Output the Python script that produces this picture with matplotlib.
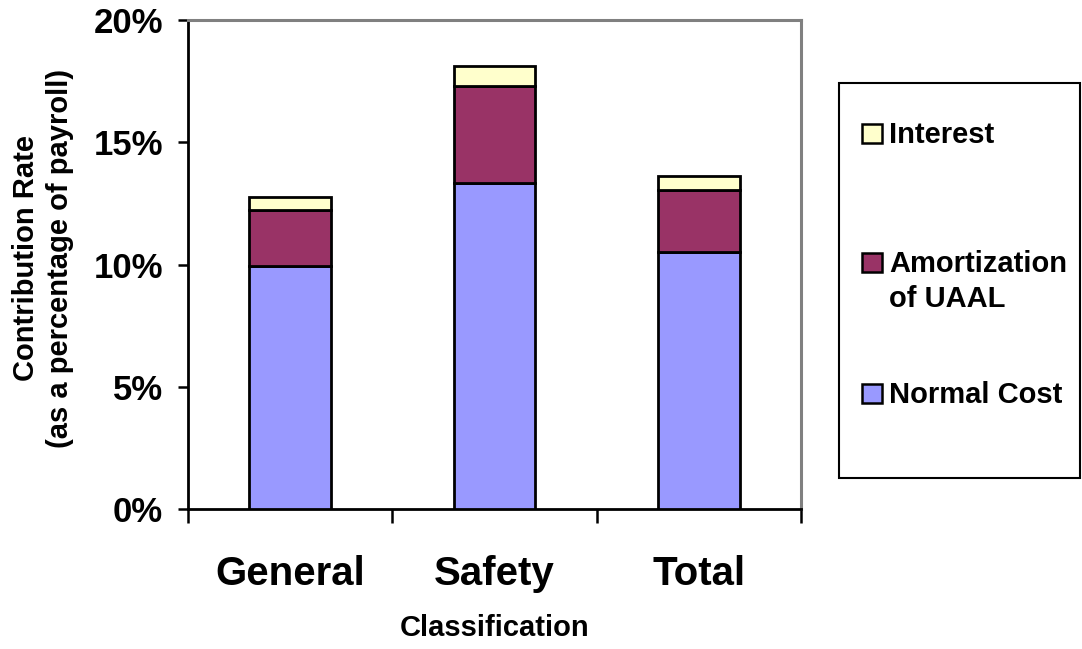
import matplotlib
matplotlib.use("Agg")
import matplotlib.pyplot as plt
from matplotlib.patches import Rectangle
from matplotlib.ticker import FixedLocator, FuncFormatter
import numpy as np

# contribution rates, % of payroll
classes = ["General", "Safety", "Total"]
normal_cost = [9.93, 13.33, 10.53]
amortization = [2.31, 3.98, 2.53]
interest = [0.54, 0.79, 0.57]

series_labels = ["Normal Cost", "Amortization\nof UAAL", "Interest"]
series_colors = ["#9999FF", "#993366", "#FFFFCC"]
y_ticks = [0, 5, 10, 15, 20]

plt.rcParams["font.family"] = ["Liberation Sans", "DejaVu Sans"]
plt.rcParams["font.weight"] = "bold"

W, H = 1082, 649
fig = plt.figure(figsize=(W / 100, H / 100), dpi=100)
ax = fig.add_axes([188 / W, 1 - 509 / H, 613 / W, 489 / H])

x = np.arange(len(classes))
bottom = np.zeros(len(classes))
for vals, col in zip([normal_cost, amortization, interest], series_colors):
    ax.bar(x, vals, width=0.40, bottom=bottom, color=col,
           edgecolor="black", linewidth=2.0, zorder=3)
    bottom += np.array(vals)

ax.set_xlim(-0.5, len(classes) - 0.5)
ax.set_ylim(0, 20)

# category labels at centres, tick marks on the boundaries
ax.set_xticks(x)
ax.set_xticklabels(classes, fontsize=29, fontweight="bold")
ax.tick_params(axis="x", which="major", length=0, pad=33)
ax.xaxis.set_minor_locator(FixedLocator(np.arange(len(classes) + 1) - 0.5))
ax.tick_params(axis="x", which="minor", length=10, width=1.8, direction="out")

ax.set_yticks(y_ticks)
ax.yaxis.set_major_formatter(FuncFormatter(lambda v, p: f"{v:.0f}%"))
ax.tick_params(axis="y", length=7, width=1.8, direction="out", pad=11,
               labelsize=25)
for t in ax.get_yticklabels():
    t.set_fontweight("bold")

for s in ["left", "bottom"]:
    ax.spines[s].set_color("black")
    ax.spines[s].set_linewidth(2.0)
for s in ["top", "right"]:
    ax.spines[s].set_color("#808080")
    ax.spines[s].set_linewidth(2.2)

fig.text(43 / W, 1 - 258 / H, "Contribution Rate\n(as a percentage of payroll)",
         rotation=90, ha="center", va="center", multialignment="center",
         fontsize=21, fontweight="bold", linespacing=1.3)
fig.text(495 / W, 1 - 628 / H, "Classification", ha="center", va="center",
         fontsize=21, fontweight="bold")

# legend box on the right
fig.patches.append(Rectangle((839 / W, 1 - 478 / H), 241 / W, 395 / H,
                             transform=fig.transFigure, facecolor="white",
                             edgecolor="black", linewidth=1.5))
key_bottoms = [403, 272, 143]
text_tops = [381, 250, 121]
for lab, col, kb, tt in zip(series_labels, series_colors, key_bottoms, text_tops):
    fig.patches.append(Rectangle((862 / W, 1 - kb / H), 20 / W, 19 / H,
                                 transform=fig.transFigure, facecolor=col,
                                 edgecolor="black", linewidth=1.8))
    fig.text(889 / W, 1 - tt / H, lab, ha="left", va="top",
             fontsize=21, fontweight="bold", linespacing=1.3)

fig.savefig("out.png", dpi=100, facecolor="white")
